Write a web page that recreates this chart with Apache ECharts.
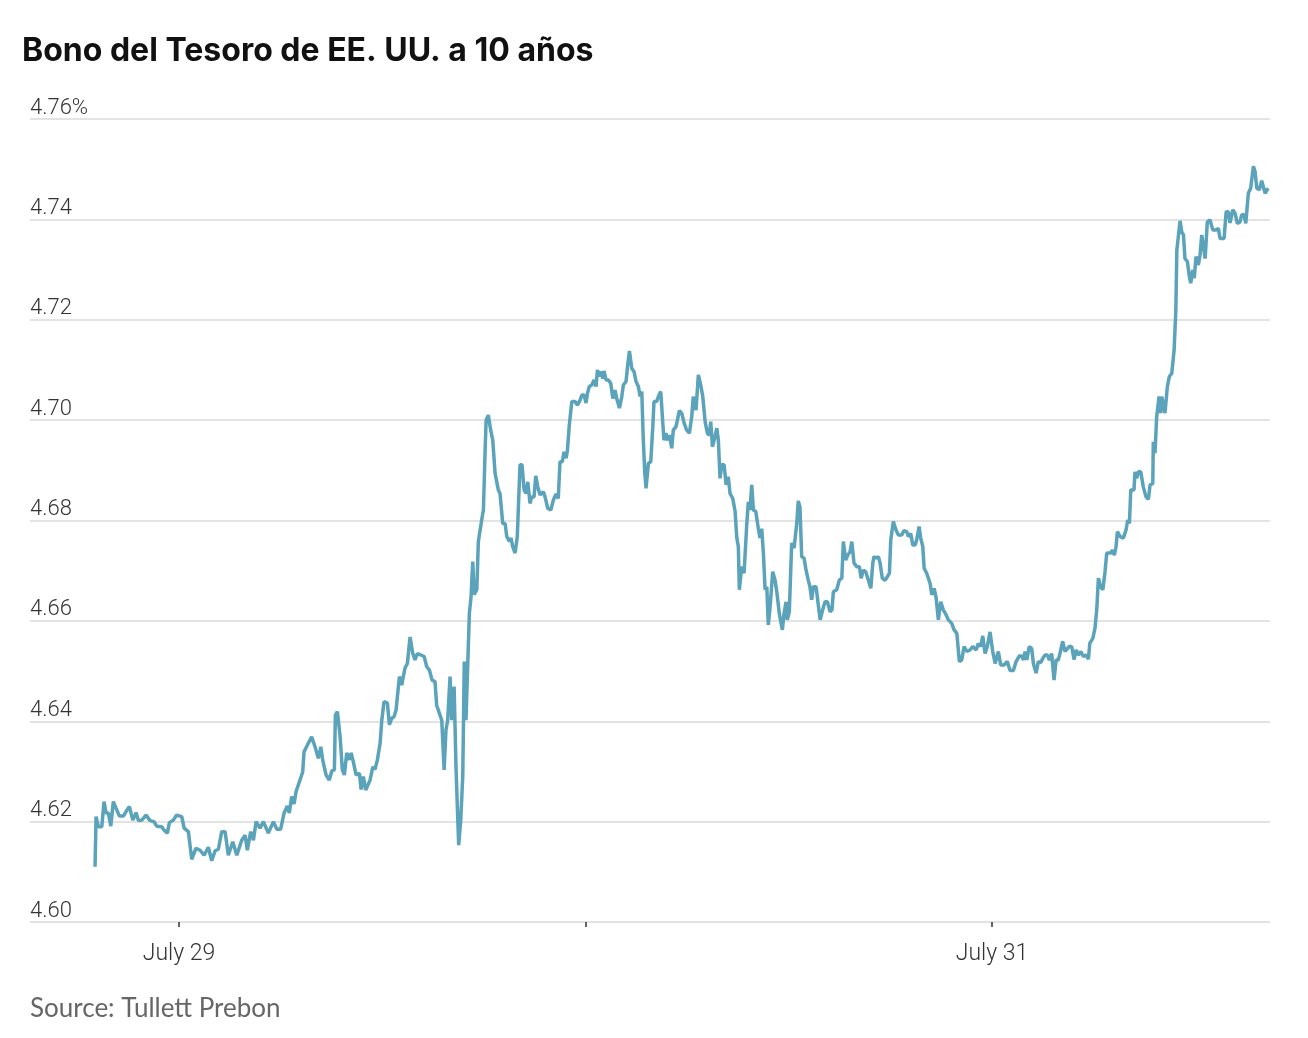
<!DOCTYPE html>
<html>
<head>
<meta charset="utf-8">
<script src="https://cdn.jsdelivr.net/npm/echarts@6/dist/echarts.min.js"></script>
<style>
  html, body { margin: 0; padding: 0; background: #ffffff; }
  #chart { width: 1308px; height: 1038px; }
</style>
</head>
<body>
<div id="chart"></div>
<script>
// Hours relative to July 29 00:00 (x axis) and 10-year yield in percent (y axis)
var hours = [
-4.96,-4.90,-4.76,-4.56,-4.43,-4.31,-4.17,-4.03,-3.88,-3.72,
-3.52,-3.29,-3.13,-2.93,-2.73,-2.54,-2.40,-2.20,-1.95,-1.71,
-1.48,-1.32,-1.02,-0.93,-0.69,-0.57,-0.34,-0.14,0.16,0.30,
0.55,0.75,1.00,1.24,1.48,1.73,1.93,2.13,2.32,2.52,
2.72,2.91,3.17,3.41,3.70,3.90,4.03,4.23,4.39,4.55,
4.78,4.98,5.27,5.57,5.77,6.00,6.20,6.39,6.51,6.65,
6.79,6.91,7.14,7.30,7.38,7.63,7.83,8.03,8.22,8.37,
8.48,8.68,8.87,9.02,9.17,9.23,9.35,9.51,9.64,9.76,
9.90,10.05,10.16,10.29,10.45,10.65,10.75,10.88,11.02,11.28,
11.44,11.57,11.71,11.87,11.97,12.10,12.30,12.42,12.56,12.69,
12.81,12.89,13.01,13.15,13.24,13.34,13.48,13.64,13.80,13.93,
14.07,14.27,14.47,14.62,14.78,14.94,15.11,15.21,15.37,15.51,
15.65,15.76,15.86,16.00,16.10,16.24,16.35,16.51,16.63,16.75,
16.84,16.94,17.05,17.14,17.24,17.34,17.42,17.58,17.67,17.77,
17.93,17.97,18.07,18.13,18.26,18.40,18.52,18.66,18.76,18.85,
18.95,19.11,19.25,19.35,19.50,19.60,19.70,19.84,19.97,20.13,
20.25,20.37,20.49,20.59,20.72,20.82,20.96,21.06,21.18,21.31,
21.51,21.61,21.77,21.95,22.10,22.26,22.39,22.49,22.63,22.73,
22.85,22.93,23.04,23.19,23.38,23.52,23.68,23.78,23.91,24.03,
24.11,24.22,24.37,24.50,24.62,24.70,24.81,24.90,25.02,25.09,
25.21,25.35,25.49,25.61,25.74,25.84,26.00,26.14,26.23,26.39,
26.49,26.59,26.73,26.86,26.98,27.12,27.22,27.32,27.41,27.50,
27.57,27.71,27.85,27.97,28.04,28.20,28.30,28.44,28.56,28.63,
28.75,28.83,28.95,29.09,29.18,29.34,29.54,29.68,29.82,29.97,
30.13,30.27,30.36,30.52,30.66,30.80,30.92,31.06,31.19,31.31,
31.39,31.49,31.59,31.75,31.84,31.94,32.04,32.18,32.30,32.43,
32.53,32.69,32.83,32.93,33.02,33.08,33.22,33.36,33.52,33.61,
33.71,33.81,33.91,34.05,34.20,34.30,34.40,34.50,34.60,34.70,
34.79,34.89,35.05,35.19,35.29,35.44,35.53,35.62,35.72,35.84,
35.91,36.03,36.17,36.31,36.47,36.56,36.66,36.76,36.90,37.02,
37.15,37.25,37.35,37.45,37.61,37.74,37.85,38.00,38.14,38.28,
38.44,38.55,38.63,38.83,38.98,39.13,39.22,39.36,39.48,39.62,
39.72,39.85,40.01,40.17,40.27,40.40,40.54,40.70,40.84,40.96,
41.03,41.15,41.29,41.39,41.52,41.68,41.82,41.94,42.02,42.17,
42.33,42.47,42.67,42.80,42.96,43.06,43.20,43.32,43.45,43.55,
43.69,43.79,43.91,43.99,44.14,44.24,44.34,44.44,44.58,44.69,
44.83,44.97,45.12,45.29,45.42,45.62,45.76,45.92,46.07,46.21,
46.35,46.51,46.70,46.86,47.06,47.19,47.33,47.45,47.59,47.72,
47.88,48.04,48.18,48.37,48.51,48.71,48.90,49.06,49.26,49.42,
49.61,49.75,49.85,49.95,50.05,50.20,50.34,50.44,50.60,50.73,
50.88,50.99,51.13,51.27,51.38,51.52,51.66,51.78,51.91,52.01,
52.17,52.31,52.41,52.56,52.70,52.84,52.96,53.10,53.24,53.39,
53.55,53.69,53.77,53.95,54.08,54.18,54.28,54.40,54.54,54.67,
54.77,55.01,55.10,55.22,55.32,55.40,55.56,55.75,55.91,56.01,
56.11,56.19,56.38,56.44,56.54,56.64,56.78,56.93,57.09,57.23,
57.33,57.49,57.52,57.62,57.72,57.86,57.96,58.02,58.11,58.21,
58.31,58.35,58.47,58.61,58.75,58.85,58.91,59.00,59.10,59.20,
59.30,59.39,59.53,59.65,59.73,59.85,59.94,60.04,60.18,60.28,
60.38,60.47,60.58,60.71,60.87,61.03,61.23,61.36,61.46,61.70,
61.82,61.95,62.05,62.21,62.35,62.48,62.64,62.74,62.88,62.98,
63.13,63.27,63.43,63.53,63.63,63.78,63.92,64.02,64.12,64.22,64.30
];

var yields = [
4.6110,4.6210,4.6190,4.6190,4.6240,4.6217,4.6217,4.6191,4.6240,4.6227,
4.6211,4.6211,4.6220,4.6230,4.6203,4.6218,4.6202,4.6203,4.6213,4.6202,
4.6200,4.6191,4.6190,4.6185,4.6177,4.6198,4.6203,4.6213,4.6210,4.6187,
4.6180,4.6125,4.6147,4.6143,4.6133,4.6149,4.6122,4.6142,4.6145,4.6180,
4.6180,4.6133,4.6160,4.6133,4.6163,4.6173,4.6143,4.6180,4.6163,4.6200,
4.6187,4.6200,4.6177,4.6200,4.6185,4.6185,4.6217,4.6231,4.6217,4.6250,
4.6235,4.6260,4.6283,4.6299,4.6339,4.6356,4.6369,4.6349,4.6326,4.6349,
4.6323,4.6293,4.6283,4.6301,4.6303,4.6412,4.6419,4.6369,4.6303,4.6293,
4.6337,4.6323,4.6337,4.6319,4.6293,4.6296,4.6264,4.6290,4.6263,4.6283,
4.6309,4.6304,4.6323,4.6356,4.6402,4.6439,4.6436,4.6393,4.6406,4.6409,
4.6422,4.6422,4.6489,4.6472,4.6489,4.6506,4.6515,4.6568,4.6535,4.6522,
4.6535,4.6532,4.6529,4.6509,4.6502,4.6482,4.6479,4.6432,4.6416,4.6402,
4.6303,4.6383,4.6402,4.6489,4.6402,4.6469,4.6309,4.6153,4.6203,4.6290,
4.6519,4.6402,4.6402,4.6615,4.6648,4.6718,4.6652,4.6662,4.6758,4.6761,
4.6814,4.6821,4.6940,4.7000,4.7010,4.6980,4.6960,4.6894,4.6894,4.6861,
4.6854,4.6794,4.6794,4.6768,4.6758,4.6765,4.6748,4.6735,4.6768,4.6911,
4.6911,4.6861,4.6854,4.6877,4.6834,4.6847,4.6847,4.6889,4.6867,4.6851,
4.6857,4.6847,4.6824,4.6821,4.6841,4.6853,4.6844,4.6917,4.6917,4.6937,
4.6924,4.6940,4.6990,4.7037,4.7037,4.7030,4.7040,4.7050,4.7050,4.7034,
4.7053,4.7067,4.7070,4.7080,4.7067,4.7100,4.7087,4.7097,4.7083,4.7098,
4.7080,4.7080,4.7073,4.7043,4.7060,4.7043,4.7024,4.7047,4.7070,4.7077,
4.7110,4.7138,4.7103,4.7097,4.7077,4.7067,4.7047,4.7057,4.6960,4.6894,
4.6864,4.6914,4.6917,4.6987,4.7037,4.7037,4.7047,4.7057,4.6994,4.6960,
4.6974,4.6960,4.6970,4.6944,4.6980,4.6987,4.7019,4.7014,4.6994,4.6980,
4.6974,4.7007,4.7047,4.7020,4.7090,4.7070,4.7047,4.6997,4.6974,4.6970,
4.6997,4.6947,4.6960,4.6984,4.6960,4.6884,4.6911,4.6911,4.6871,4.6887,
4.6854,4.6844,4.6818,4.6765,4.6748,4.6662,4.6708,4.6695,4.6794,4.6837,
4.6821,4.6871,4.6821,4.6818,4.6784,4.6765,4.6784,4.6735,4.6662,4.6668,
4.6592,4.6625,4.6698,4.6681,4.6658,4.6615,4.6612,4.6582,4.6615,4.6638,
4.6602,4.6618,4.6755,4.6745,4.6794,4.6839,4.6827,4.6728,4.6725,4.6701,
4.6681,4.6668,4.6642,4.6668,4.6668,4.6632,4.6602,4.6622,4.6638,4.6638,
4.6618,4.6622,4.6658,4.6662,4.6681,4.6685,4.6758,4.6721,4.6731,4.6738,
4.6758,4.6715,4.6708,4.6708,4.6685,4.6701,4.6698,4.6681,4.6665,4.6715,
4.6728,4.6725,4.6728,4.6715,4.6685,4.6681,4.6688,4.6695,4.6761,4.6798,
4.6781,4.6771,4.6771,4.6780,4.6778,4.6768,4.6774,4.6751,4.6751,4.6761,
4.6788,4.6765,4.6748,4.6705,4.6695,4.6695,4.6675,4.6652,4.6665,4.6648,
4.6602,4.6638,4.6622,4.6612,4.6602,4.6595,4.6582,4.6575,4.6519,4.6522,
4.6549,4.6539,4.6542,4.6549,4.6542,4.6555,4.6549,4.6570,4.6535,4.6549,
4.6578,4.6539,4.6515,4.6539,4.6512,4.6512,4.6519,4.6501,4.6501,4.6519,
4.6530,4.6530,4.6522,4.6539,4.6522,4.6549,4.6545,4.6515,4.6496,4.6519,
4.6517,4.6525,4.6532,4.6532,4.6522,4.6535,4.6482,4.6522,4.6522,4.6535,
4.6559,4.6539,4.6539,4.6549,4.6549,4.6523,4.6542,4.6532,4.6539,4.6529,
4.6532,4.6524,4.6555,4.6565,4.6586,4.6622,4.6685,4.6668,4.6662,4.6698,
4.6735,4.6735,4.6741,4.6731,4.6748,4.6778,4.6768,4.6765,4.6781,4.6801,
4.6794,4.6861,4.6861,4.6897,4.6884,4.6897,4.6897,4.6867,4.6847,4.6842,
4.6871,4.6874,4.6957,4.6934,4.7007,4.7047,4.7014,4.7047,4.7047,4.7014,
4.7014,4.7067,4.7087,4.7093,4.7140,4.7219,4.7339,4.7342,4.7397,4.7375,
4.7369,4.7322,4.7316,4.7286,4.7273,4.7299,4.7283,4.7326,4.7309,4.7329,
4.7369,4.7369,4.7322,4.7395,4.7399,4.7379,4.7379,4.7382,4.7362,4.7362,
4.7415,4.7415,4.7393,4.7419,4.7412,4.7392,4.7395,4.7409,4.7409,4.7392,
4.7452,4.7462,4.7506,4.7495,4.7462,4.7459,4.7477,4.7475,4.7452,4.7449,4.7462
];

// x-axis ticks (hours from July 29 00:00) and labels
var xTickHours = [0, 24, 48];
var xLabelHours = [0, 48];
var xLabelTexts = ['July 29', 'July 31'];
var xMin = -8.80, xMax = 64.41;

// y-axis ticks
var yMin = 4.60, yMax = 4.76, yStep = 0.02;

var titleText = 'Bono del Tesoro de EE. UU. a 10 años';
var sourceText = 'Source: Tullett Prebon';

var n = Math.min(hours.length, yields.length);
var seriesData = [];
for (var i = 0; i < n; i++) seriesData.push([hours[i], yields[i]]);

var chart = echarts.init(document.getElementById('chart'), null, { renderer: 'canvas' });
chart.setOption({
  animation: false,
  backgroundColor: '#ffffff',
  title: {
    text: titleText,
    left: 22,
    top: 35,
    padding: 0,
    textStyle: { fontFamily: 'Inter, Roboto', fontWeight: 'bold', fontSize: 32, color: '#111111' }
  },
  graphic: [{
    type: 'text',
    left: 30,
    top: 996,
    style: { text: sourceText, font: '26px Lato', fill: '#666666' }
  }],
  grid: { left: 30, right: 38, top: 119, bottom: 116, containLabel: false },
  xAxis: {
    type: 'value',
    min: xMin,
    max: xMax,
    axisLine: { show: false },
    splitLine: { show: false },
    axisTick: {
      show: true,
      customValues: xTickHours,
      length: 5,
      lineStyle: { color: '#333333', width: 1.5 }
    },
    axisLabel: {
      show: true,
      customValues: xLabelHours,
      margin: 21,
      fontFamily: 'Roboto',
      fontWeight: 300,
      fontSize: 23,
      color: '#333333',
      formatter: function (v) {
        var k = xLabelHours.indexOf(v);
        return k >= 0 ? xLabelTexts[k] : '';
      }
    }
  },
  yAxis: {
    type: 'value',
    min: yMin,
    max: yMax,
    interval: yStep,
    axisLine: { show: false },
    axisTick: { show: false },
    splitLine: { show: true, lineStyle: { color: '#e3e3e3', width: 2 } },
    axisLabel: {
      inside: true,
      margin: 0,
      align: 'left',
      verticalAlign: 'bottom',
      fontFamily: 'Roboto',
      fontWeight: 300,
      fontSize: 22,
      color: '#333333',
      formatter: function (v) {
        var s = v.toFixed(2);
        return Math.abs(v - yMax) < 1e-6 ? s + '%' : s;
      }
    }
  },
  series: [{
    type: 'line',
    data: seriesData,
    showSymbol: false,
    smooth: false,
    lineStyle: { color: '#5aa3ba', width: 3.5 },
    z: 3
  }]
});
</script>
</body>
</html>
